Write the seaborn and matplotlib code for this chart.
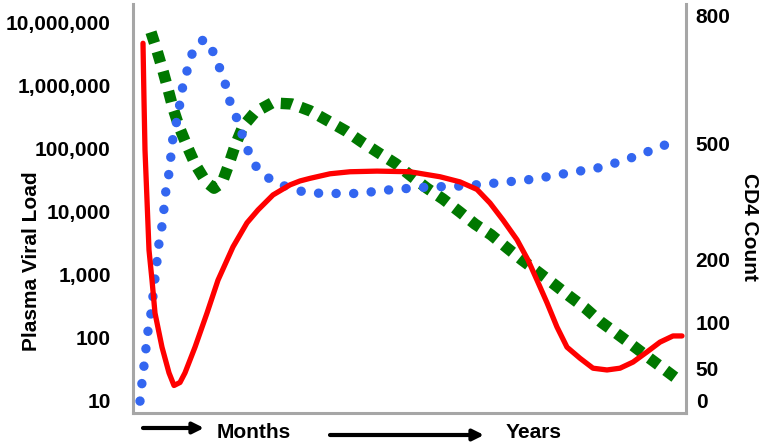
import numpy as np
import pandas as pd
import seaborn as sns
import matplotlib.pyplot as plt

# time axis is arbitrary (no ticks)
red_t = [10, 11, 12, 14, 16, 19, 22, 29, 36, 41, 47, 52, 62, 74, 85, 100, 114, 125, 140, 157,
         167, 177, 197, 217, 244, 277, 307, 327, 344, 357, 370, 384, 395, 404, 414, 424, 434,
         447, 460, 474, 487, 500, 514, 527, 540, 549]
red_v = [4.6e6, 5.8e5, 9.3e4, 1.5e4, 2.4e3, 800, 240, 69, 27, 17, 19, 27, 69, 240, 800, 2700,
         6500, 1.04e4, 1.8e4, 2.6e4, 3.0e4, 3.3e4, 3.9e4, 4.2e4, 4.3e4, 4.2e4, 3.5e4, 2.9e4,
         2.2e4, 1.34e4, 7.2e3, 3.5e3, 1.67e3, 800, 350, 144, 69, 46, 32, 30, 32, 40, 58, 83,
         104, 104]

blue_t = [7, 9, 11, 13, 15, 18, 20, 22, 24, 26, 29, 31, 33, 36, 38, 40, 44, 47, 50, 55, 60,
          71, 81, 87, 93, 97, 104, 110, 116, 124, 138, 154, 171, 189, 224, 260, 295, 330,
          365, 400, 435, 470, 504, 537]
blue_v = [9.6, 19, 35, 67, 125, 240, 450, 860, 1600, 3100, 5800, 1.1e4, 2.2e4, 4.0e4, 7.7e4,
          1.5e5, 2.8e5, 5.2e5, 1.0e6, 1.9e6, 3.5e6, 5.4e6, 3.2e6, 1.8e6, 9.6e5, 5.4e5, 2.9e5,
          1.5e5, 8.3e4, 4.8e4, 3.1e4, 2.4e4, 2.0e4, 1.9e4, 1.9e4, 2.2e4, 2.4e4, 2.5e4, 2.8e4,
          3.2e4, 4.0e4, 5.0e4, 7.5e4, 1.2e5]

green_t = [18, 24, 30, 35, 40, 46, 54, 62, 73, 81, 89, 96, 102, 110, 122, 139, 159, 177, 195,
           213, 229, 246, 263, 279, 294, 310, 327, 342, 358, 374, 389, 405, 421, 436, 452,
           468, 483, 499, 515, 531, 547]
green_v = [6.9e6, 3.5e6, 1.67e6, 8.6e5, 4.3e5, 2.2e5, 1.08e5, 5.6e4, 2.9e4, 2.3e4, 2.8e4,
           5.6e4, 1.08e5, 2.2e5, 3.7e5, 5.2e5, 5.0e5, 3.9e5, 2.7e5, 1.86e5, 1.24e5, 8.3e4,
           5.6e4, 3.5e4, 2.3e4, 1.55e4, 9.6e3, 6.2e3, 4.2e3, 2.6e3, 1.67e3, 1.08e3, 690, 450,
           290, 173, 116, 75, 48, 31, 20]

vl_ticks = [10, 100, 1e3, 1e4, 1e5, 1e6, 1e7]
vl_labels = ["10", "100", "1,000", "10,000", "100,000", "1,000,000", "10,000,000"]
cd4_labels = ["0", "50", "100", "200", "500", "800"]
cd4_pos = [10, 32, 167, 1730, 1.2e5, 1.29e7]

sns.set_style("white")
plt.rcParams['font.family'] = ['Liberation Sans', 'DejaVu Sans']
plt.rcParams['font.weight'] = 'bold'
plt.rcParams['text.color'] = 'black'
plt.rcParams['axes.labelcolor'] = 'black'
plt.rcParams['ytick.color'] = 'black'

fig = plt.figure(figsize=(7.62, 4.46), dpi=100)
ax = fig.add_axes([133/762, 1-413/446, 553/762, 409/446])

sns.lineplot(x=green_t, y=green_v, ax=ax, color="#007800", lw=8.2, estimator=None,
             linestyle=(0, (1.0, 0.8)))
sns.lineplot(x=blue_t, y=blue_v, ax=ax, color="#3366F0", lw=6.8, estimator=None,
             linestyle=(0, (0.01, 1.85)), dash_capstyle='round')
sns.lineplot(x=red_t, y=red_v, ax=ax, color="#FF0000", lw=3.8, estimator=None)

ax.set_yscale('log')
ax.set_xlim(0, 553)
ax.set_ylim(10**0.794, 10**7.286)
ax.set_xticks([])
ax.set_yticks(vl_ticks)
ax.set_yticklabels(vl_labels)
ax.minorticks_off()
ax.tick_params(axis='y', length=0, pad=16, labelsize=15, labelcolor='black')
ax.set_ylabel("Plasma Viral Load", fontsize=15, fontweight='bold', va='center')
ax.yaxis.set_label_coords(-0.183, 0.372)

ax2 = ax.twinx()
ax2.set_yscale('log')
ax2.set_ylim(ax.get_ylim())
ax2.set_yticks(cd4_pos)
ax2.set_yticklabels(cd4_labels)
ax2.minorticks_off()
ax2.tick_params(axis='y', length=0, pad=7, labelsize=15, labelcolor='black')
ax2.set_ylabel("CD4 Count", fontsize=15, fontweight='bold', rotation=270, va='center')
ax2.yaxis.set_label_coords(1.114, 0.455)

for a in (ax, ax2):
    for s in a.spines.values():
        s.set_visible(False)
ax.spines['left'].set_visible(True)
ax.spines['bottom'].set_visible(True)
ax2.spines['right'].set_visible(True)
for s in (ax.spines['left'], ax.spines['bottom'], ax2.spines['right']):
    s.set_color("#A6A6A6")
    s.set_linewidth(2.2)

arrow = dict(arrowstyle='-|>', lw=3, color='black', mutation_scale=16, shrinkA=0, shrinkB=0)
fig.add_artist(plt.Annotation("", xy=(204/762, 18/446), xytext=(143/762, 18/446),
                              xycoords='figure fraction', arrowprops=arrow))
fig.add_artist(plt.Annotation("", xy=(484/762, 11/446), xytext=(330/762, 11/446),
                              xycoords='figure fraction', arrowprops=arrow))
fig.text(217/762, 13/446, "Months", fontsize=15, fontweight='bold', va='center', ha='left')
fig.text(506/762, 13/446, "Years", fontsize=15, fontweight='bold', va='center', ha='left')

fig.savefig("out.png", dpi=100)
